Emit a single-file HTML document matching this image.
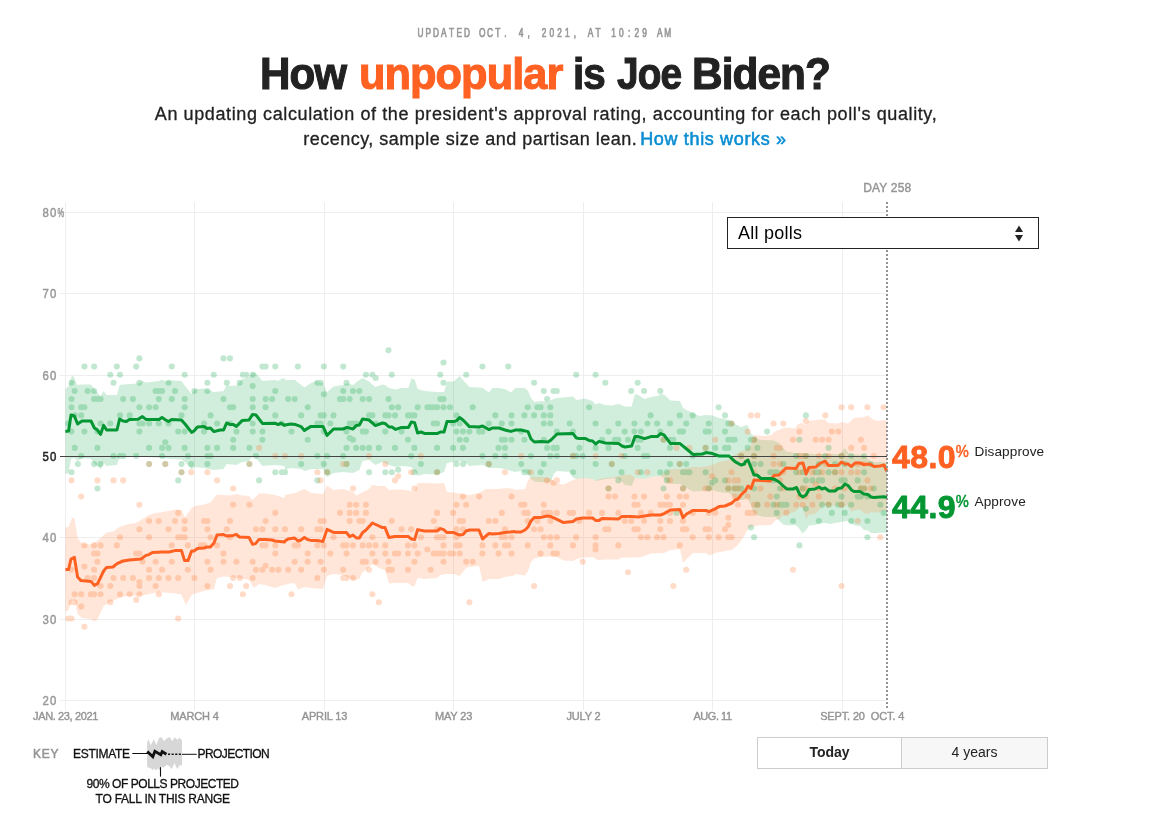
<!DOCTYPE html>
<html lang="en"><head><meta charset="utf-8"><title>How unpopular is Joe Biden?</title>
<style>
html,body{margin:0;padding:0;background:#fff;}
body{width:1150px;height:821px;position:relative;overflow:hidden;font-family:"Liberation Sans",sans-serif;color:#222;}
h1{position:absolute;left:0;width:1090px;top:49px;margin:0;text-align:center;font-size:44.5px;line-height:50px;font-weight:bold;color:#222;white-space:nowrap;text-align:left}
h1 i{position:absolute;top:0;font-style:normal;letter-spacing:-1px;transform-origin:0 0;-webkit-text-stroke:1.1px #222} h1 i.o{-webkit-text-stroke-color:#ff6122} h1 i.o{color:#ff6122}
.sub{position:absolute;left:0;width:1090px;top:102px;margin:0;text-align:center;font-size:18px;line-height:24.6px;color:#222;white-space:nowrap;letter-spacing:0.58px}
.sub{-webkit-text-stroke:0.3px #222} .sub a{color:#0a8dd2;text-decoration:none;-webkit-text-stroke:0.55px #0a8dd2}
svg.chart{position:absolute;left:0;top:0}
.ylab text{font-size:13.4px;fill:#999;stroke:#999;stroke-width:0.5px;letter-spacing:1.4px}
.upd{font-size:11.9px;fill:#999;stroke:#999;stroke-width:0.75px}
.xlab text{font-size:11px;fill:#949494;stroke:#949494;stroke-width:0.4px;text-anchor:middle;letter-spacing:-0.15px}
.big{font-size:32px;font-weight:bold;letter-spacing:0.4px;stroke-width:0.9px;stroke-linejoin:round}
.pct{font-size:16.3px;stroke-width:0.5px}
.lab{font-size:13.6px;fill:#222;letter-spacing:0.1px}
.key{font-size:12px;fill:#111;stroke:#111;stroke-width:0.3px}
.select{position:absolute;left:727px;top:217px;width:310px;height:30px;border:1px solid #222;background:#fff;font-size:18px;line-height:30px;color:#000;letter-spacing:0.25px}
.select span{position:absolute;left:10px;top:0}
.select svg{position:absolute;left:286px;top:7px}
.btns{position:absolute;left:757px;top:737px;width:291px;height:32px;border:1px solid #ccc;box-sizing:border-box;font-size:14px;background:#fff}
.btns div{position:absolute;top:0;height:30px;line-height:29px;text-align:center}
.btns .a{left:0;width:143px;font-weight:bold;border-right:1px solid #ccc}
.btns .b{left:144px;width:145px;background:#f7f7f7}
</style></head><body>
<h1><i style="left:259.8px;transform:scaleX(0.946)">How</i> <i class="o" style="left:358.9px;transform:scaleX(0.975)">unpopular</i> <i style="left:573.2px;transform:scaleX(0.909)">is</i> <i style="left:616.7px;transform:scaleX(0.872)">Joe</i> <i style="left:692.3px;transform:scaleX(0.952)">Biden?</i></h1>
<p class="sub"><span style="letter-spacing:0.605px;padding-left:2px">An updating calculation of the president's approval rating, accounting for each poll's quality,</span><br><span style="letter-spacing:0.49px">recency, sample size and partisan lean. <a style="margin-left:-2.5px;letter-spacing:0.66px">How this works »</a></span></p>
<svg class="chart" width="1150" height="821" viewBox="0 0 1150 821"><g stroke="#eeeeee" stroke-width="1" shape-rendering="crispEdges"><line x1="65.5" y1="202" x2="65.5" y2="710"/><line x1="194.5" y1="202" x2="194.5" y2="710"/><line x1="324.5" y1="202" x2="324.5" y2="710"/><line x1="453.5" y1="202" x2="453.5" y2="710"/><line x1="583.5" y1="202" x2="583.5" y2="710"/><line x1="712.5" y1="202" x2="712.5" y2="710"/><line x1="842.5" y1="202" x2="842.5" y2="710"/><line x1="60" y1="212.5" x2="887" y2="212.5"/><line x1="60" y1="293.5" x2="887" y2="293.5"/><line x1="60" y1="375.5" x2="887" y2="375.5"/><line x1="60" y1="537.5" x2="887" y2="537.5"/><line x1="60" y1="619.5" x2="887" y2="619.5"/><line x1="60" y1="700.5" x2="887" y2="700.5"/></g><defs><clipPath id="cg"><path d="M65.4,389.0 L68.6,386.0 L72.0,375.6 L74.0,377.0 L77.0,385.0 L81.0,384.4 L91.0,384.4 L95.0,390.0 L100.6,396.0 L103.6,391.0 L106.6,395.0 L117.0,395.0 L119.6,385.0 L123.0,384.4 L138.0,383.6 L142.4,381.0 L146.0,382.4 L159.0,381.0 L162.0,379.4 L165.6,381.4 L171.6,380.6 L181.4,381.0 L185.0,386.0 L191.6,394.0 L194.0,390.0 L197.4,389.0 L204.0,388.4 L214.0,392.0 L223.6,391.0 L226.6,385.0 L230.0,386.0 L236.4,385.6 L242.4,379.0 L249.0,377.0 L252.6,372.6 L256.0,373.0 L262.4,381.0 L275.0,380.0 L278.0,381.0 L281.0,379.0 L284.6,378.0 L285.0,380.0 L295.0,380.0 L304.4,387.4 L311.0,383.0 L317.0,381.0 L323.0,383.0 L327.0,392.0 L333.6,386.4 L343.0,385.0 L347.0,383.0 L353.0,385.0 L356.4,382.0 L362.6,378.0 L369.0,381.4 L375.4,387.0 L382.4,384.4 L385.0,385.0 L389.0,388.0 L395.6,389.4 L401.6,388.0 L408.4,388.0 L411.4,378.6 L414.6,379.6 L417.6,389.0 L424.4,391.0 L437.0,392.0 L444.0,392.0 L447.0,381.4 L453.6,381.4 L459.6,376.0 L463.0,380.0 L469.4,387.0 L479.0,387.4 L482.6,388.0 L489.0,392.6 L492.4,388.0 L499.0,388.0 L505.0,389.0 L511.0,392.6 L514.6,389.0 L515.0,388.0 L525.0,388.0 L528.0,391.0 L531.0,398.0 L534.4,402.0 L541.0,401.0 L548.0,402.0 L551.0,400.0 L557.0,398.0 L573.0,396.6 L576.4,400.0 L579.6,399.6 L585.0,398.4 L592.6,401.0 L595.6,404.4 L599.0,403.0 L605.4,405.0 L612.0,405.4 L618.4,404.0 L625.0,406.4 L631.6,406.6 L635.0,394.0 L638.4,395.0 L644.6,399.0 L651.0,397.0 L657.4,396.0 L660.6,394.0 L664.0,394.4 L670.4,400.6 L680.0,401.0 L683.0,408.0 L686.6,410.0 L693.0,413.0 L699.4,416.0 L706.0,415.0 L712.6,415.6 L719.0,418.0 L729.0,420.0 L735.0,424.0 L741.0,427.0 L744.6,426.0 L745.0,425.5 L747.5,425.0 L750.0,432.5 L754.0,436.0 L760.0,440.0 L774.0,440.5 L779.0,443.0 L786.0,451.5 L795.0,453.0 L815.0,454.0 L840.0,454.0 L845.0,448.0 L849.0,454.0 L864.0,455.0 L870.0,461.0 L876.0,462.5 L880.0,461.5 L887.0,463.0 L887.0,533.0 L884.0,532.5 L876.0,533.0 L871.0,533.0 L868.0,530.5 L864.0,530.0 L860.0,526.0 L855.0,525.5 L851.5,523.5 L847.0,521.0 L838.0,522.5 L830.0,524.0 L825.0,523.0 L819.0,523.5 L815.0,525.0 L809.0,525.5 L806.0,530.0 L802.5,533.5 L798.0,527.0 L795.0,525.0 L789.0,525.5 L783.0,524.5 L779.0,520.5 L776.0,517.0 L765.0,517.0 L758.0,515.5 L753.5,513.0 L750.5,504.0 L747.5,498.0 L745.0,498.5 L744.6,500.0 L741.0,500.0 L735.0,498.0 L729.0,493.0 L719.0,492.0 L712.6,490.0 L702.4,491.0 L693.0,491.4 L686.6,488.0 L680.0,484.0 L674.0,484.0 L667.0,483.0 L664.0,478.0 L660.6,476.0 L651.0,477.0 L644.6,479.0 L635.0,478.0 L631.6,486.0 L625.0,485.0 L618.4,478.0 L605.4,479.0 L595.6,481.0 L592.6,479.0 L585.0,478.0 L576.4,479.0 L573.0,477.6 L570.0,472.0 L557.0,471.0 L554.0,473.6 L551.0,481.0 L548.0,482.4 L541.0,482.0 L534.4,481.6 L531.0,479.0 L528.0,474.0 L521.0,471.0 L515.0,472.0 L514.6,472.0 L505.0,469.0 L499.0,468.0 L489.0,468.0 L482.6,465.0 L469.4,466.0 L463.0,461.0 L453.6,462.0 L447.0,463.0 L444.0,472.0 L437.0,474.4 L424.4,474.0 L417.6,476.0 L411.4,467.0 L401.6,466.0 L395.6,467.0 L389.0,465.0 L382.4,462.0 L375.4,465.0 L369.0,460.0 L362.6,461.0 L359.4,470.0 L353.0,473.0 L343.0,472.0 L333.6,473.0 L327.0,477.0 L323.0,469.0 L311.0,469.0 L304.4,471.0 L301.0,469.0 L291.0,468.0 L285.0,470.0 L284.6,466.0 L275.0,465.0 L262.4,466.0 L256.0,458.0 L252.6,456.0 L249.0,461.0 L242.4,462.0 L236.4,465.0 L226.6,464.0 L223.6,469.0 L214.0,470.0 L204.0,468.0 L195.0,467.0 L191.6,469.6 L185.0,462.0 L181.4,459.4 L171.6,459.0 L162.0,458.0 L146.0,457.0 L138.0,456.4 L123.0,457.4 L119.6,457.0 L117.0,465.0 L106.6,466.0 L103.6,463.0 L100.6,469.0 L94.4,464.0 L91.0,459.0 L82.0,458.0 L77.6,461.0 L74.4,458.0 L71.0,459.0 L68.6,473.0 L65.4,474.0Z"/></clipPath><clipPath id="co"><path d="M65.4,527.4 L68.6,527.0 L72.0,518.0 L74.4,517.4 L77.6,538.0 L82.0,543.6 L91.0,544.4 L94.4,543.0 L100.6,538.0 L106.6,532.4 L113.0,531.6 L119.6,527.0 L126.4,524.4 L136.0,523.0 L142.4,519.0 L149.0,515.0 L155.6,513.0 L165.6,511.6 L175.0,509.4 L181.4,510.0 L185.0,517.6 L191.6,508.0 L195.0,506.0 L204.0,504.4 L210.4,502.6 L217.0,494.4 L223.6,495.0 L230.0,495.6 L236.4,494.0 L242.4,495.6 L249.0,496.0 L252.6,500.0 L259.0,493.6 L265.0,493.6 L275.0,495.0 L284.6,498.0 L285.0,495.0 L295.0,493.0 L304.4,489.0 L311.0,493.0 L323.0,494.0 L327.0,485.6 L333.6,490.0 L343.0,489.0 L353.0,492.0 L356.4,495.6 L363.0,492.0 L369.0,489.0 L372.4,485.0 L379.0,486.0 L385.0,486.0 L389.0,490.0 L401.6,489.6 L411.4,491.0 L414.6,492.0 L417.6,483.0 L424.4,483.0 L437.0,483.4 L444.0,483.0 L447.0,492.0 L453.6,492.6 L463.0,494.0 L469.4,495.0 L479.0,493.0 L486.0,489.0 L499.0,489.0 L505.0,488.0 L514.6,489.0 L515.0,490.0 L525.0,489.0 L528.0,480.0 L531.0,477.0 L541.0,477.0 L548.0,478.0 L551.0,479.0 L557.0,483.0 L563.6,484.6 L573.0,480.0 L576.4,479.0 L585.0,478.0 L592.6,479.0 L595.6,481.0 L599.0,479.0 L605.4,478.0 L612.0,477.6 L618.4,476.0 L625.0,474.4 L631.6,475.0 L635.0,478.0 L644.6,479.0 L651.0,477.0 L660.6,476.0 L664.0,473.0 L667.0,470.0 L674.0,469.0 L680.0,469.0 L686.6,468.0 L693.0,467.0 L702.4,467.0 L712.6,465.0 L719.0,462.0 L729.0,460.0 L735.0,455.0 L741.0,451.0 L744.6,450.6 L746.0,449.0 L750.0,447.0 L753.0,440.0 L754.0,435.0 L765.0,436.0 L771.0,435.0 L775.0,431.5 L785.0,427.5 L795.0,428.5 L798.0,424.0 L802.0,423.0 L806.0,425.0 L809.0,421.0 L820.0,419.5 L825.0,419.5 L828.5,423.0 L838.0,423.5 L842.0,422.0 L848.0,423.5 L854.0,418.0 L864.0,417.0 L868.0,415.5 L874.0,420.0 L879.0,421.0 L883.0,420.0 L887.0,421.0 L887.0,511.0 L884.0,510.0 L880.0,512.0 L876.0,512.5 L871.0,512.0 L868.0,514.0 L864.0,513.0 L860.0,509.5 L855.0,510.0 L851.5,511.5 L847.0,505.0 L842.0,507.5 L838.5,506.0 L835.0,505.5 L824.0,505.0 L819.0,510.0 L815.0,514.0 L809.0,514.5 L806.0,519.0 L803.0,508.0 L800.0,506.5 L795.0,512.0 L790.0,513.0 L783.0,515.5 L779.0,519.5 L776.0,520.0 L771.0,525.0 L758.0,525.5 L751.0,527.0 L748.0,529.0 L745.0,534.5 L744.6,535.6 L738.0,545.0 L732.0,550.0 L725.0,551.0 L715.6,553.0 L709.0,555.6 L706.0,553.0 L693.0,553.0 L686.6,559.0 L683.0,563.0 L680.0,549.0 L670.4,550.0 L664.0,553.0 L651.0,553.6 L641.4,557.0 L631.6,557.6 L622.0,557.6 L618.4,559.4 L605.4,559.4 L599.0,560.0 L595.6,559.0 L592.6,557.0 L583.0,557.6 L576.4,559.0 L573.0,561.0 L563.6,560.4 L557.0,557.0 L551.0,556.4 L541.0,557.0 L534.4,558.6 L531.0,562.0 L528.0,571.0 L525.0,575.6 L515.0,574.0 L514.6,575.6 L505.0,577.0 L499.0,579.0 L489.0,579.0 L482.6,582.0 L479.0,566.0 L469.4,567.0 L466.0,568.0 L459.6,576.0 L453.6,574.0 L447.0,574.0 L440.4,575.0 L437.0,578.0 L424.4,579.0 L417.6,578.0 L414.6,586.0 L411.4,586.0 L408.4,583.0 L395.0,583.0 L389.0,583.6 L385.0,570.0 L379.0,568.0 L372.4,564.0 L366.0,570.0 L362.6,572.0 L359.4,579.0 L353.0,580.0 L343.0,575.0 L333.6,574.0 L327.0,576.0 L323.0,589.0 L311.0,588.0 L304.4,587.0 L298.0,589.6 L295.0,583.6 L291.0,583.0 L285.0,585.0 L284.6,584.4 L275.0,588.0 L265.0,585.0 L259.0,584.0 L254.0,588.0 L249.0,580.0 L236.4,577.4 L223.6,576.6 L217.0,578.0 L214.0,589.0 L204.0,591.0 L195.0,593.6 L191.6,595.0 L186.0,605.0 L181.4,594.4 L175.0,593.6 L159.0,592.0 L149.0,594.0 L142.4,595.4 L136.0,595.6 L126.4,596.0 L119.6,598.0 L110.0,602.0 L103.6,606.0 L97.6,619.0 L94.4,621.6 L91.0,619.0 L82.0,618.0 L77.6,614.0 L75.0,601.0 L72.0,600.0 L68.6,610.0 L65.4,612.0Z"/></clipPath></defs><path d="M65.4,389.0 L68.6,386.0 L72.0,375.6 L74.0,377.0 L77.0,385.0 L81.0,384.4 L91.0,384.4 L95.0,390.0 L100.6,396.0 L103.6,391.0 L106.6,395.0 L117.0,395.0 L119.6,385.0 L123.0,384.4 L138.0,383.6 L142.4,381.0 L146.0,382.4 L159.0,381.0 L162.0,379.4 L165.6,381.4 L171.6,380.6 L181.4,381.0 L185.0,386.0 L191.6,394.0 L194.0,390.0 L197.4,389.0 L204.0,388.4 L214.0,392.0 L223.6,391.0 L226.6,385.0 L230.0,386.0 L236.4,385.6 L242.4,379.0 L249.0,377.0 L252.6,372.6 L256.0,373.0 L262.4,381.0 L275.0,380.0 L278.0,381.0 L281.0,379.0 L284.6,378.0 L285.0,380.0 L295.0,380.0 L304.4,387.4 L311.0,383.0 L317.0,381.0 L323.0,383.0 L327.0,392.0 L333.6,386.4 L343.0,385.0 L347.0,383.0 L353.0,385.0 L356.4,382.0 L362.6,378.0 L369.0,381.4 L375.4,387.0 L382.4,384.4 L385.0,385.0 L389.0,388.0 L395.6,389.4 L401.6,388.0 L408.4,388.0 L411.4,378.6 L414.6,379.6 L417.6,389.0 L424.4,391.0 L437.0,392.0 L444.0,392.0 L447.0,381.4 L453.6,381.4 L459.6,376.0 L463.0,380.0 L469.4,387.0 L479.0,387.4 L482.6,388.0 L489.0,392.6 L492.4,388.0 L499.0,388.0 L505.0,389.0 L511.0,392.6 L514.6,389.0 L515.0,388.0 L525.0,388.0 L528.0,391.0 L531.0,398.0 L534.4,402.0 L541.0,401.0 L548.0,402.0 L551.0,400.0 L557.0,398.0 L573.0,396.6 L576.4,400.0 L579.6,399.6 L585.0,398.4 L592.6,401.0 L595.6,404.4 L599.0,403.0 L605.4,405.0 L612.0,405.4 L618.4,404.0 L625.0,406.4 L631.6,406.6 L635.0,394.0 L638.4,395.0 L644.6,399.0 L651.0,397.0 L657.4,396.0 L660.6,394.0 L664.0,394.4 L670.4,400.6 L680.0,401.0 L683.0,408.0 L686.6,410.0 L693.0,413.0 L699.4,416.0 L706.0,415.0 L712.6,415.6 L719.0,418.0 L729.0,420.0 L735.0,424.0 L741.0,427.0 L744.6,426.0 L745.0,425.5 L747.5,425.0 L750.0,432.5 L754.0,436.0 L760.0,440.0 L774.0,440.5 L779.0,443.0 L786.0,451.5 L795.0,453.0 L815.0,454.0 L840.0,454.0 L845.0,448.0 L849.0,454.0 L864.0,455.0 L870.0,461.0 L876.0,462.5 L880.0,461.5 L887.0,463.0 L887.0,533.0 L884.0,532.5 L876.0,533.0 L871.0,533.0 L868.0,530.5 L864.0,530.0 L860.0,526.0 L855.0,525.5 L851.5,523.5 L847.0,521.0 L838.0,522.5 L830.0,524.0 L825.0,523.0 L819.0,523.5 L815.0,525.0 L809.0,525.5 L806.0,530.0 L802.5,533.5 L798.0,527.0 L795.0,525.0 L789.0,525.5 L783.0,524.5 L779.0,520.5 L776.0,517.0 L765.0,517.0 L758.0,515.5 L753.5,513.0 L750.5,504.0 L747.5,498.0 L745.0,498.5 L744.6,500.0 L741.0,500.0 L735.0,498.0 L729.0,493.0 L719.0,492.0 L712.6,490.0 L702.4,491.0 L693.0,491.4 L686.6,488.0 L680.0,484.0 L674.0,484.0 L667.0,483.0 L664.0,478.0 L660.6,476.0 L651.0,477.0 L644.6,479.0 L635.0,478.0 L631.6,486.0 L625.0,485.0 L618.4,478.0 L605.4,479.0 L595.6,481.0 L592.6,479.0 L585.0,478.0 L576.4,479.0 L573.0,477.6 L570.0,472.0 L557.0,471.0 L554.0,473.6 L551.0,481.0 L548.0,482.4 L541.0,482.0 L534.4,481.6 L531.0,479.0 L528.0,474.0 L521.0,471.0 L515.0,472.0 L514.6,472.0 L505.0,469.0 L499.0,468.0 L489.0,468.0 L482.6,465.0 L469.4,466.0 L463.0,461.0 L453.6,462.0 L447.0,463.0 L444.0,472.0 L437.0,474.4 L424.4,474.0 L417.6,476.0 L411.4,467.0 L401.6,466.0 L395.6,467.0 L389.0,465.0 L382.4,462.0 L375.4,465.0 L369.0,460.0 L362.6,461.0 L359.4,470.0 L353.0,473.0 L343.0,472.0 L333.6,473.0 L327.0,477.0 L323.0,469.0 L311.0,469.0 L304.4,471.0 L301.0,469.0 L291.0,468.0 L285.0,470.0 L284.6,466.0 L275.0,465.0 L262.4,466.0 L256.0,458.0 L252.6,456.0 L249.0,461.0 L242.4,462.0 L236.4,465.0 L226.6,464.0 L223.6,469.0 L214.0,470.0 L204.0,468.0 L195.0,467.0 L191.6,469.6 L185.0,462.0 L181.4,459.4 L171.6,459.0 L162.0,458.0 L146.0,457.0 L138.0,456.4 L123.0,457.4 L119.6,457.0 L117.0,465.0 L106.6,466.0 L103.6,463.0 L100.6,469.0 L94.4,464.0 L91.0,459.0 L82.0,458.0 L77.6,461.0 L74.4,458.0 L71.0,459.0 L68.6,473.0 L65.4,474.0Z" fill="#00a03e" fill-opacity="0.18"/><path d="M65.4,527.4 L68.6,527.0 L72.0,518.0 L74.4,517.4 L77.6,538.0 L82.0,543.6 L91.0,544.4 L94.4,543.0 L100.6,538.0 L106.6,532.4 L113.0,531.6 L119.6,527.0 L126.4,524.4 L136.0,523.0 L142.4,519.0 L149.0,515.0 L155.6,513.0 L165.6,511.6 L175.0,509.4 L181.4,510.0 L185.0,517.6 L191.6,508.0 L195.0,506.0 L204.0,504.4 L210.4,502.6 L217.0,494.4 L223.6,495.0 L230.0,495.6 L236.4,494.0 L242.4,495.6 L249.0,496.0 L252.6,500.0 L259.0,493.6 L265.0,493.6 L275.0,495.0 L284.6,498.0 L285.0,495.0 L295.0,493.0 L304.4,489.0 L311.0,493.0 L323.0,494.0 L327.0,485.6 L333.6,490.0 L343.0,489.0 L353.0,492.0 L356.4,495.6 L363.0,492.0 L369.0,489.0 L372.4,485.0 L379.0,486.0 L385.0,486.0 L389.0,490.0 L401.6,489.6 L411.4,491.0 L414.6,492.0 L417.6,483.0 L424.4,483.0 L437.0,483.4 L444.0,483.0 L447.0,492.0 L453.6,492.6 L463.0,494.0 L469.4,495.0 L479.0,493.0 L486.0,489.0 L499.0,489.0 L505.0,488.0 L514.6,489.0 L515.0,490.0 L525.0,489.0 L528.0,480.0 L531.0,477.0 L541.0,477.0 L548.0,478.0 L551.0,479.0 L557.0,483.0 L563.6,484.6 L573.0,480.0 L576.4,479.0 L585.0,478.0 L592.6,479.0 L595.6,481.0 L599.0,479.0 L605.4,478.0 L612.0,477.6 L618.4,476.0 L625.0,474.4 L631.6,475.0 L635.0,478.0 L644.6,479.0 L651.0,477.0 L660.6,476.0 L664.0,473.0 L667.0,470.0 L674.0,469.0 L680.0,469.0 L686.6,468.0 L693.0,467.0 L702.4,467.0 L712.6,465.0 L719.0,462.0 L729.0,460.0 L735.0,455.0 L741.0,451.0 L744.6,450.6 L746.0,449.0 L750.0,447.0 L753.0,440.0 L754.0,435.0 L765.0,436.0 L771.0,435.0 L775.0,431.5 L785.0,427.5 L795.0,428.5 L798.0,424.0 L802.0,423.0 L806.0,425.0 L809.0,421.0 L820.0,419.5 L825.0,419.5 L828.5,423.0 L838.0,423.5 L842.0,422.0 L848.0,423.5 L854.0,418.0 L864.0,417.0 L868.0,415.5 L874.0,420.0 L879.0,421.0 L883.0,420.0 L887.0,421.0 L887.0,511.0 L884.0,510.0 L880.0,512.0 L876.0,512.5 L871.0,512.0 L868.0,514.0 L864.0,513.0 L860.0,509.5 L855.0,510.0 L851.5,511.5 L847.0,505.0 L842.0,507.5 L838.5,506.0 L835.0,505.5 L824.0,505.0 L819.0,510.0 L815.0,514.0 L809.0,514.5 L806.0,519.0 L803.0,508.0 L800.0,506.5 L795.0,512.0 L790.0,513.0 L783.0,515.5 L779.0,519.5 L776.0,520.0 L771.0,525.0 L758.0,525.5 L751.0,527.0 L748.0,529.0 L745.0,534.5 L744.6,535.6 L738.0,545.0 L732.0,550.0 L725.0,551.0 L715.6,553.0 L709.0,555.6 L706.0,553.0 L693.0,553.0 L686.6,559.0 L683.0,563.0 L680.0,549.0 L670.4,550.0 L664.0,553.0 L651.0,553.6 L641.4,557.0 L631.6,557.6 L622.0,557.6 L618.4,559.4 L605.4,559.4 L599.0,560.0 L595.6,559.0 L592.6,557.0 L583.0,557.6 L576.4,559.0 L573.0,561.0 L563.6,560.4 L557.0,557.0 L551.0,556.4 L541.0,557.0 L534.4,558.6 L531.0,562.0 L528.0,571.0 L525.0,575.6 L515.0,574.0 L514.6,575.6 L505.0,577.0 L499.0,579.0 L489.0,579.0 L482.6,582.0 L479.0,566.0 L469.4,567.0 L466.0,568.0 L459.6,576.0 L453.6,574.0 L447.0,574.0 L440.4,575.0 L437.0,578.0 L424.4,579.0 L417.6,578.0 L414.6,586.0 L411.4,586.0 L408.4,583.0 L395.0,583.0 L389.0,583.6 L385.0,570.0 L379.0,568.0 L372.4,564.0 L366.0,570.0 L362.6,572.0 L359.4,579.0 L353.0,580.0 L343.0,575.0 L333.6,574.0 L327.0,576.0 L323.0,589.0 L311.0,588.0 L304.4,587.0 L298.0,589.6 L295.0,583.6 L291.0,583.0 L285.0,585.0 L284.6,584.4 L275.0,588.0 L265.0,585.0 L259.0,584.0 L254.0,588.0 L249.0,580.0 L236.4,577.4 L223.6,576.6 L217.0,578.0 L214.0,589.0 L204.0,591.0 L195.0,593.6 L191.6,595.0 L186.0,605.0 L181.4,594.4 L175.0,593.6 L159.0,592.0 L149.0,594.0 L142.4,595.4 L136.0,595.6 L126.4,596.0 L119.6,598.0 L110.0,602.0 L103.6,606.0 L97.6,619.0 L94.4,621.6 L91.0,619.0 L82.0,618.0 L77.6,614.0 L75.0,601.0 L72.0,600.0 L68.6,610.0 L65.4,612.0Z" fill="#ff6c1f" fill-opacity="0.17"/><g clip-path="url(#cg)"><rect x="60" y="330" width="830" height="330" clip-path="url(#co)" fill="#ffdeb8" fill-opacity="0.13"/></g><g fill="#00a03e" opacity="0.24"><circle cx="139.4" cy="358.4" r="3.05"/><circle cx="223.5" cy="358.4" r="3.05"/><circle cx="230.0" cy="358.4" r="3.05"/><circle cx="84.4" cy="366.6" r="3.05"/><circle cx="94.1" cy="366.6" r="3.05"/><circle cx="116.8" cy="366.6" r="3.05"/><circle cx="136.2" cy="366.6" r="3.05"/><circle cx="171.8" cy="366.6" r="3.05"/><circle cx="262.4" cy="366.6" r="3.05"/><circle cx="265.6" cy="366.6" r="3.05"/><circle cx="275.3" cy="366.6" r="3.05"/><circle cx="297.9" cy="366.6" r="3.05"/><circle cx="323.8" cy="366.6" r="3.05"/><circle cx="343.2" cy="366.6" r="3.05"/><circle cx="482.4" cy="366.6" r="3.05"/><circle cx="508.2" cy="366.6" r="3.05"/><circle cx="110.3" cy="374.7" r="3.05"/><circle cx="120.0" cy="374.7" r="3.05"/><circle cx="184.7" cy="374.7" r="3.05"/><circle cx="213.8" cy="374.7" r="3.05"/><circle cx="242.9" cy="374.7" r="3.05"/><circle cx="246.2" cy="374.7" r="3.05"/><circle cx="252.7" cy="374.7" r="3.05"/><circle cx="365.9" cy="374.7" r="3.05"/><circle cx="372.4" cy="374.7" r="3.05"/><circle cx="391.8" cy="374.7" r="3.05"/><circle cx="440.3" cy="374.7" r="3.05"/><circle cx="466.2" cy="374.7" r="3.05"/><circle cx="576.2" cy="374.7" r="3.05"/><circle cx="595.6" cy="374.7" r="3.05"/><circle cx="71.5" cy="382.8" r="3.05"/><circle cx="113.5" cy="382.8" r="3.05"/><circle cx="139.4" cy="382.8" r="3.05"/><circle cx="168.5" cy="382.8" r="3.05"/><circle cx="207.4" cy="382.8" r="3.05"/><circle cx="226.8" cy="382.8" r="3.05"/><circle cx="239.7" cy="382.8" r="3.05"/><circle cx="317.4" cy="382.8" r="3.05"/><circle cx="320.6" cy="382.8" r="3.05"/><circle cx="346.5" cy="382.8" r="3.05"/><circle cx="443.5" cy="382.8" r="3.05"/><circle cx="534.1" cy="382.8" r="3.05"/><circle cx="605.3" cy="382.8" r="3.05"/><circle cx="637.7" cy="382.8" r="3.05"/><circle cx="252.7" cy="386.1" r="3.05"/><circle cx="375.6" cy="378.0" r="3.05"/><circle cx="443.5" cy="362.5" r="3.05"/><circle cx="388.5" cy="350.3" r="3.05"/><circle cx="323.8" cy="394.2" r="3.05"/><circle cx="74.7" cy="391.0" r="3.05"/><circle cx="87.6" cy="391.0" r="3.05"/><circle cx="94.1" cy="391.0" r="3.05"/><circle cx="155.6" cy="391.0" r="3.05"/><circle cx="158.8" cy="391.0" r="3.05"/><circle cx="162.1" cy="391.0" r="3.05"/><circle cx="175.0" cy="391.0" r="3.05"/><circle cx="194.4" cy="391.0" r="3.05"/><circle cx="207.4" cy="391.0" r="3.05"/><circle cx="275.3" cy="391.0" r="3.05"/><circle cx="343.2" cy="391.0" r="3.05"/><circle cx="353.0" cy="391.0" r="3.05"/><circle cx="359.4" cy="391.0" r="3.05"/><circle cx="543.8" cy="391.0" r="3.05"/><circle cx="553.5" cy="391.0" r="3.05"/><circle cx="556.8" cy="391.0" r="3.05"/><circle cx="631.2" cy="391.0" r="3.05"/><circle cx="644.1" cy="391.0" r="3.05"/><circle cx="660.3" cy="391.0" r="3.05"/><circle cx="71.5" cy="399.1" r="3.05"/><circle cx="94.1" cy="399.1" r="3.05"/><circle cx="97.4" cy="399.1" r="3.05"/><circle cx="100.6" cy="399.1" r="3.05"/><circle cx="123.2" cy="399.1" r="3.05"/><circle cx="132.9" cy="399.1" r="3.05"/><circle cx="158.8" cy="399.1" r="3.05"/><circle cx="171.8" cy="399.1" r="3.05"/><circle cx="184.7" cy="399.1" r="3.05"/><circle cx="223.5" cy="399.1" r="3.05"/><circle cx="252.7" cy="399.1" r="3.05"/><circle cx="265.6" cy="399.1" r="3.05"/><circle cx="272.1" cy="399.1" r="3.05"/><circle cx="288.2" cy="399.1" r="3.05"/><circle cx="294.7" cy="399.1" r="3.05"/><circle cx="340.0" cy="399.1" r="3.05"/><circle cx="343.2" cy="399.1" r="3.05"/><circle cx="349.7" cy="399.1" r="3.05"/><circle cx="362.7" cy="399.1" r="3.05"/><circle cx="369.1" cy="399.1" r="3.05"/><circle cx="388.5" cy="399.1" r="3.05"/><circle cx="440.3" cy="399.1" r="3.05"/><circle cx="443.5" cy="399.1" r="3.05"/><circle cx="547.1" cy="399.1" r="3.05"/><circle cx="71.5" cy="407.2" r="3.05"/><circle cx="81.2" cy="407.2" r="3.05"/><circle cx="84.4" cy="407.2" r="3.05"/><circle cx="139.4" cy="407.2" r="3.05"/><circle cx="149.1" cy="407.2" r="3.05"/><circle cx="155.6" cy="407.2" r="3.05"/><circle cx="184.7" cy="407.2" r="3.05"/><circle cx="230.0" cy="407.2" r="3.05"/><circle cx="233.2" cy="407.2" r="3.05"/><circle cx="252.7" cy="407.2" r="3.05"/><circle cx="265.6" cy="407.2" r="3.05"/><circle cx="307.7" cy="407.2" r="3.05"/><circle cx="391.8" cy="407.2" r="3.05"/><circle cx="398.2" cy="407.2" r="3.05"/><circle cx="417.7" cy="407.2" r="3.05"/><circle cx="427.4" cy="407.2" r="3.05"/><circle cx="430.6" cy="407.2" r="3.05"/><circle cx="433.8" cy="407.2" r="3.05"/><circle cx="437.1" cy="407.2" r="3.05"/><circle cx="443.5" cy="407.2" r="3.05"/><circle cx="450.0" cy="407.2" r="3.05"/><circle cx="472.7" cy="407.2" r="3.05"/><circle cx="527.7" cy="407.2" r="3.05"/><circle cx="537.4" cy="407.2" r="3.05"/><circle cx="540.6" cy="407.2" r="3.05"/><circle cx="550.3" cy="407.2" r="3.05"/><circle cx="589.1" cy="407.2" r="3.05"/><circle cx="718.6" cy="407.2" r="3.05"/><circle cx="74.7" cy="415.4" r="3.05"/><circle cx="81.2" cy="415.4" r="3.05"/><circle cx="120.0" cy="415.4" r="3.05"/><circle cx="129.7" cy="415.4" r="3.05"/><circle cx="181.5" cy="415.4" r="3.05"/><circle cx="210.6" cy="415.4" r="3.05"/><circle cx="275.3" cy="415.4" r="3.05"/><circle cx="301.2" cy="415.4" r="3.05"/><circle cx="320.6" cy="415.4" r="3.05"/><circle cx="323.8" cy="415.4" r="3.05"/><circle cx="333.5" cy="415.4" r="3.05"/><circle cx="369.1" cy="415.4" r="3.05"/><circle cx="372.4" cy="415.4" r="3.05"/><circle cx="385.3" cy="415.4" r="3.05"/><circle cx="388.5" cy="415.4" r="3.05"/><circle cx="395.0" cy="415.4" r="3.05"/><circle cx="408.0" cy="415.4" r="3.05"/><circle cx="411.2" cy="415.4" r="3.05"/><circle cx="414.4" cy="415.4" r="3.05"/><circle cx="456.5" cy="415.4" r="3.05"/><circle cx="495.3" cy="415.4" r="3.05"/><circle cx="511.5" cy="415.4" r="3.05"/><circle cx="524.4" cy="415.4" r="3.05"/><circle cx="534.1" cy="415.4" r="3.05"/><circle cx="543.8" cy="415.4" r="3.05"/><circle cx="550.3" cy="415.4" r="3.05"/><circle cx="650.6" cy="415.4" r="3.05"/><circle cx="679.7" cy="415.4" r="3.05"/><circle cx="692.7" cy="415.4" r="3.05"/><circle cx="725.0" cy="415.4" r="3.05"/><circle cx="805.9" cy="415.4" r="3.05"/><circle cx="68.2" cy="423.5" r="3.05"/><circle cx="100.6" cy="423.5" r="3.05"/><circle cx="110.3" cy="423.5" r="3.05"/><circle cx="139.4" cy="423.5" r="3.05"/><circle cx="142.6" cy="423.5" r="3.05"/><circle cx="149.1" cy="423.5" r="3.05"/><circle cx="158.8" cy="423.5" r="3.05"/><circle cx="168.5" cy="423.5" r="3.05"/><circle cx="204.1" cy="423.5" r="3.05"/><circle cx="217.1" cy="423.5" r="3.05"/><circle cx="230.0" cy="423.5" r="3.05"/><circle cx="252.7" cy="423.5" r="3.05"/><circle cx="281.8" cy="423.5" r="3.05"/><circle cx="317.4" cy="423.5" r="3.05"/><circle cx="320.6" cy="423.5" r="3.05"/><circle cx="330.3" cy="423.5" r="3.05"/><circle cx="349.7" cy="423.5" r="3.05"/><circle cx="353.0" cy="423.5" r="3.05"/><circle cx="356.2" cy="423.5" r="3.05"/><circle cx="375.6" cy="423.5" r="3.05"/><circle cx="433.8" cy="423.5" r="3.05"/><circle cx="437.1" cy="423.5" r="3.05"/><circle cx="453.2" cy="423.5" r="3.05"/><circle cx="459.7" cy="423.5" r="3.05"/><circle cx="488.8" cy="423.5" r="3.05"/><circle cx="501.8" cy="423.5" r="3.05"/><circle cx="511.5" cy="423.5" r="3.05"/><circle cx="543.8" cy="423.5" r="3.05"/><circle cx="550.3" cy="423.5" r="3.05"/><circle cx="569.7" cy="423.5" r="3.05"/><circle cx="595.6" cy="423.5" r="3.05"/><circle cx="618.3" cy="423.5" r="3.05"/><circle cx="634.4" cy="423.5" r="3.05"/><circle cx="647.4" cy="423.5" r="3.05"/><circle cx="657.1" cy="423.5" r="3.05"/><circle cx="670.0" cy="423.5" r="3.05"/><circle cx="686.2" cy="423.5" r="3.05"/><circle cx="708.8" cy="423.5" r="3.05"/><circle cx="728.3" cy="423.5" r="3.05"/><circle cx="731.5" cy="423.5" r="3.05"/><circle cx="71.5" cy="431.6" r="3.05"/><circle cx="84.4" cy="431.6" r="3.05"/><circle cx="97.4" cy="431.6" r="3.05"/><circle cx="139.4" cy="431.6" r="3.05"/><circle cx="178.2" cy="431.6" r="3.05"/><circle cx="184.7" cy="431.6" r="3.05"/><circle cx="204.1" cy="431.6" r="3.05"/><circle cx="236.5" cy="431.6" r="3.05"/><circle cx="252.7" cy="431.6" r="3.05"/><circle cx="262.4" cy="431.6" r="3.05"/><circle cx="291.5" cy="431.6" r="3.05"/><circle cx="323.8" cy="431.6" r="3.05"/><circle cx="346.5" cy="431.6" r="3.05"/><circle cx="362.7" cy="431.6" r="3.05"/><circle cx="365.9" cy="431.6" r="3.05"/><circle cx="385.3" cy="431.6" r="3.05"/><circle cx="401.5" cy="431.6" r="3.05"/><circle cx="456.5" cy="431.6" r="3.05"/><circle cx="463.0" cy="431.6" r="3.05"/><circle cx="469.4" cy="431.6" r="3.05"/><circle cx="479.1" cy="431.6" r="3.05"/><circle cx="482.4" cy="431.6" r="3.05"/><circle cx="521.2" cy="431.6" r="3.05"/><circle cx="556.8" cy="431.6" r="3.05"/><circle cx="573.0" cy="431.6" r="3.05"/><circle cx="608.5" cy="431.6" r="3.05"/><circle cx="624.7" cy="431.6" r="3.05"/><circle cx="634.4" cy="431.6" r="3.05"/><circle cx="640.9" cy="431.6" r="3.05"/><circle cx="660.3" cy="431.6" r="3.05"/><circle cx="679.7" cy="431.6" r="3.05"/><circle cx="683.0" cy="431.6" r="3.05"/><circle cx="705.6" cy="431.6" r="3.05"/><circle cx="708.8" cy="431.6" r="3.05"/><circle cx="725.0" cy="431.6" r="3.05"/><circle cx="767.1" cy="431.6" r="3.05"/><circle cx="233.2" cy="439.7" r="3.05"/><circle cx="262.4" cy="439.7" r="3.05"/><circle cx="307.7" cy="439.7" r="3.05"/><circle cx="353.0" cy="439.7" r="3.05"/><circle cx="408.0" cy="439.7" r="3.05"/><circle cx="459.7" cy="439.7" r="3.05"/><circle cx="466.2" cy="439.7" r="3.05"/><circle cx="501.8" cy="439.7" r="3.05"/><circle cx="505.0" cy="439.7" r="3.05"/><circle cx="511.5" cy="439.7" r="3.05"/><circle cx="524.4" cy="439.7" r="3.05"/><circle cx="543.8" cy="439.7" r="3.05"/><circle cx="602.1" cy="439.7" r="3.05"/><circle cx="615.0" cy="439.7" r="3.05"/><circle cx="618.3" cy="439.7" r="3.05"/><circle cx="628.0" cy="439.7" r="3.05"/><circle cx="637.7" cy="439.7" r="3.05"/><circle cx="640.9" cy="439.7" r="3.05"/><circle cx="663.5" cy="439.7" r="3.05"/><circle cx="670.0" cy="439.7" r="3.05"/><circle cx="673.3" cy="439.7" r="3.05"/><circle cx="728.3" cy="439.7" r="3.05"/><circle cx="731.5" cy="439.7" r="3.05"/><circle cx="734.7" cy="439.7" r="3.05"/><circle cx="750.9" cy="439.7" r="3.05"/><circle cx="754.1" cy="439.7" r="3.05"/><circle cx="799.4" cy="439.7" r="3.05"/><circle cx="165.3" cy="442.2" r="3.05"/><circle cx="349.7" cy="438.1" r="3.05"/><circle cx="398.2" cy="469.8" r="3.05"/><circle cx="74.7" cy="447.9" r="3.05"/><circle cx="97.4" cy="447.9" r="3.05"/><circle cx="149.1" cy="447.9" r="3.05"/><circle cx="162.1" cy="447.9" r="3.05"/><circle cx="168.5" cy="447.9" r="3.05"/><circle cx="184.7" cy="447.9" r="3.05"/><circle cx="207.4" cy="447.9" r="3.05"/><circle cx="217.1" cy="447.9" r="3.05"/><circle cx="233.2" cy="447.9" r="3.05"/><circle cx="249.4" cy="447.9" r="3.05"/><circle cx="346.5" cy="447.9" r="3.05"/><circle cx="356.2" cy="447.9" r="3.05"/><circle cx="362.7" cy="447.9" r="3.05"/><circle cx="369.1" cy="447.9" r="3.05"/><circle cx="378.8" cy="447.9" r="3.05"/><circle cx="395.0" cy="447.9" r="3.05"/><circle cx="414.4" cy="447.9" r="3.05"/><circle cx="437.1" cy="447.9" r="3.05"/><circle cx="453.2" cy="447.9" r="3.05"/><circle cx="463.0" cy="447.9" r="3.05"/><circle cx="498.5" cy="447.9" r="3.05"/><circle cx="505.0" cy="447.9" r="3.05"/><circle cx="547.1" cy="447.9" r="3.05"/><circle cx="553.5" cy="447.9" r="3.05"/><circle cx="556.8" cy="447.9" r="3.05"/><circle cx="579.4" cy="447.9" r="3.05"/><circle cx="595.6" cy="447.9" r="3.05"/><circle cx="608.5" cy="447.9" r="3.05"/><circle cx="637.7" cy="447.9" r="3.05"/><circle cx="670.0" cy="447.9" r="3.05"/><circle cx="705.6" cy="447.9" r="3.05"/><circle cx="715.3" cy="447.9" r="3.05"/><circle cx="725.0" cy="447.9" r="3.05"/><circle cx="728.3" cy="447.9" r="3.05"/><circle cx="747.7" cy="447.9" r="3.05"/><circle cx="757.4" cy="447.9" r="3.05"/><circle cx="828.6" cy="447.9" r="3.05"/><circle cx="81.2" cy="456.0" r="3.05"/><circle cx="113.5" cy="456.0" r="3.05"/><circle cx="120.0" cy="456.0" r="3.05"/><circle cx="123.2" cy="456.0" r="3.05"/><circle cx="136.2" cy="456.0" r="3.05"/><circle cx="162.1" cy="456.0" r="3.05"/><circle cx="187.9" cy="456.0" r="3.05"/><circle cx="207.4" cy="456.0" r="3.05"/><circle cx="210.6" cy="456.0" r="3.05"/><circle cx="255.9" cy="456.0" r="3.05"/><circle cx="317.4" cy="456.0" r="3.05"/><circle cx="327.1" cy="456.0" r="3.05"/><circle cx="343.2" cy="456.0" r="3.05"/><circle cx="411.2" cy="456.0" r="3.05"/><circle cx="482.4" cy="456.0" r="3.05"/><circle cx="495.3" cy="456.0" r="3.05"/><circle cx="505.0" cy="456.0" r="3.05"/><circle cx="530.9" cy="456.0" r="3.05"/><circle cx="550.3" cy="456.0" r="3.05"/><circle cx="556.8" cy="456.0" r="3.05"/><circle cx="573.0" cy="456.0" r="3.05"/><circle cx="576.2" cy="456.0" r="3.05"/><circle cx="582.7" cy="456.0" r="3.05"/><circle cx="624.7" cy="456.0" r="3.05"/><circle cx="644.1" cy="456.0" r="3.05"/><circle cx="647.4" cy="456.0" r="3.05"/><circle cx="692.7" cy="456.0" r="3.05"/><circle cx="741.2" cy="456.0" r="3.05"/><circle cx="754.1" cy="456.0" r="3.05"/><circle cx="796.2" cy="456.0" r="3.05"/><circle cx="805.9" cy="456.0" r="3.05"/><circle cx="825.3" cy="456.0" r="3.05"/><circle cx="841.5" cy="456.0" r="3.05"/><circle cx="851.2" cy="456.0" r="3.05"/><circle cx="864.1" cy="456.0" r="3.05"/><circle cx="77.9" cy="464.1" r="3.05"/><circle cx="94.1" cy="464.1" r="3.05"/><circle cx="100.6" cy="464.1" r="3.05"/><circle cx="149.1" cy="464.1" r="3.05"/><circle cx="165.3" cy="464.1" r="3.05"/><circle cx="181.5" cy="464.1" r="3.05"/><circle cx="191.2" cy="464.1" r="3.05"/><circle cx="207.4" cy="464.1" r="3.05"/><circle cx="249.4" cy="464.1" r="3.05"/><circle cx="301.2" cy="464.1" r="3.05"/><circle cx="323.8" cy="464.1" r="3.05"/><circle cx="346.5" cy="464.1" r="3.05"/><circle cx="420.9" cy="464.1" r="3.05"/><circle cx="456.5" cy="464.1" r="3.05"/><circle cx="463.0" cy="464.1" r="3.05"/><circle cx="488.8" cy="464.1" r="3.05"/><circle cx="521.2" cy="464.1" r="3.05"/><circle cx="543.8" cy="464.1" r="3.05"/><circle cx="595.6" cy="464.1" r="3.05"/><circle cx="611.8" cy="464.1" r="3.05"/><circle cx="670.0" cy="464.1" r="3.05"/><circle cx="679.7" cy="464.1" r="3.05"/><circle cx="686.2" cy="464.1" r="3.05"/><circle cx="754.1" cy="464.1" r="3.05"/><circle cx="760.6" cy="464.1" r="3.05"/><circle cx="783.3" cy="464.1" r="3.05"/><circle cx="818.8" cy="464.1" r="3.05"/><circle cx="835.0" cy="464.1" r="3.05"/><circle cx="844.7" cy="464.1" r="3.05"/><circle cx="870.6" cy="464.1" r="3.05"/><circle cx="71.5" cy="472.3" r="3.05"/><circle cx="181.5" cy="472.3" r="3.05"/><circle cx="275.3" cy="472.3" r="3.05"/><circle cx="281.8" cy="472.3" r="3.05"/><circle cx="285.0" cy="472.3" r="3.05"/><circle cx="327.1" cy="472.3" r="3.05"/><circle cx="369.1" cy="472.3" r="3.05"/><circle cx="385.3" cy="472.3" r="3.05"/><circle cx="391.8" cy="472.3" r="3.05"/><circle cx="414.4" cy="472.3" r="3.05"/><circle cx="437.1" cy="472.3" r="3.05"/><circle cx="524.4" cy="472.3" r="3.05"/><circle cx="527.7" cy="472.3" r="3.05"/><circle cx="540.6" cy="472.3" r="3.05"/><circle cx="573.0" cy="472.3" r="3.05"/><circle cx="621.5" cy="472.3" r="3.05"/><circle cx="640.9" cy="472.3" r="3.05"/><circle cx="660.3" cy="472.3" r="3.05"/><circle cx="666.8" cy="472.3" r="3.05"/><circle cx="683.0" cy="472.3" r="3.05"/><circle cx="686.2" cy="472.3" r="3.05"/><circle cx="689.4" cy="472.3" r="3.05"/><circle cx="705.6" cy="472.3" r="3.05"/><circle cx="770.3" cy="472.3" r="3.05"/><circle cx="773.6" cy="472.3" r="3.05"/><circle cx="776.8" cy="472.3" r="3.05"/><circle cx="796.2" cy="472.3" r="3.05"/><circle cx="802.7" cy="472.3" r="3.05"/><circle cx="815.6" cy="472.3" r="3.05"/><circle cx="818.8" cy="472.3" r="3.05"/><circle cx="828.6" cy="472.3" r="3.05"/><circle cx="835.0" cy="472.3" r="3.05"/><circle cx="864.1" cy="472.3" r="3.05"/><circle cx="178.2" cy="480.4" r="3.05"/><circle cx="259.1" cy="480.4" r="3.05"/><circle cx="317.4" cy="480.4" r="3.05"/><circle cx="618.3" cy="480.4" r="3.05"/><circle cx="666.8" cy="480.4" r="3.05"/><circle cx="715.3" cy="480.4" r="3.05"/><circle cx="725.0" cy="480.4" r="3.05"/><circle cx="773.6" cy="480.4" r="3.05"/><circle cx="805.9" cy="480.4" r="3.05"/><circle cx="812.4" cy="480.4" r="3.05"/><circle cx="818.8" cy="480.4" r="3.05"/><circle cx="822.1" cy="480.4" r="3.05"/><circle cx="841.5" cy="480.4" r="3.05"/><circle cx="844.7" cy="480.4" r="3.05"/><circle cx="857.7" cy="480.4" r="3.05"/><circle cx="712.1" cy="482.8" r="3.05"/><circle cx="97.4" cy="488.5" r="3.05"/><circle cx="608.5" cy="488.5" r="3.05"/><circle cx="663.5" cy="488.5" r="3.05"/><circle cx="683.0" cy="488.5" r="3.05"/><circle cx="708.8" cy="488.5" r="3.05"/><circle cx="728.3" cy="488.5" r="3.05"/><circle cx="734.7" cy="488.5" r="3.05"/><circle cx="738.0" cy="488.5" r="3.05"/><circle cx="741.2" cy="488.5" r="3.05"/><circle cx="754.1" cy="488.5" r="3.05"/><circle cx="780.0" cy="488.5" r="3.05"/><circle cx="802.7" cy="488.5" r="3.05"/><circle cx="860.9" cy="488.5" r="3.05"/><circle cx="864.1" cy="488.5" r="3.05"/><circle cx="873.8" cy="488.5" r="3.05"/><circle cx="776.8" cy="496.6" r="3.05"/><circle cx="841.5" cy="496.6" r="3.05"/><circle cx="857.7" cy="496.6" r="3.05"/><circle cx="860.9" cy="496.6" r="3.05"/><circle cx="867.4" cy="496.6" r="3.05"/><circle cx="757.4" cy="504.8" r="3.05"/><circle cx="773.6" cy="504.8" r="3.05"/><circle cx="780.0" cy="504.8" r="3.05"/><circle cx="783.3" cy="504.8" r="3.05"/><circle cx="786.5" cy="504.8" r="3.05"/><circle cx="822.1" cy="504.8" r="3.05"/><circle cx="828.6" cy="504.8" r="3.05"/><circle cx="838.3" cy="504.8" r="3.05"/><circle cx="841.5" cy="504.8" r="3.05"/><circle cx="851.2" cy="504.8" r="3.05"/><circle cx="880.3" cy="504.8" r="3.05"/><circle cx="676.5" cy="512.9" r="3.05"/><circle cx="776.8" cy="512.9" r="3.05"/><circle cx="831.8" cy="512.9" r="3.05"/><circle cx="844.7" cy="512.9" r="3.05"/><circle cx="883.6" cy="512.9" r="3.05"/><circle cx="793.0" cy="521.0" r="3.05"/><circle cx="818.8" cy="521.0" r="3.05"/><circle cx="851.2" cy="521.0" r="3.05"/><circle cx="867.4" cy="521.0" r="3.05"/><circle cx="750.9" cy="527.5" r="3.05"/><circle cx="754.1" cy="537.3" r="3.05"/><circle cx="867.4" cy="537.3" r="3.05"/><circle cx="799.4" cy="545.4" r="3.05"/><circle cx="805.9" cy="508.8" r="3.05"/></g><g fill="#ff6c1f" opacity="0.24"><circle cx="841.5" cy="407.2" r="3.05"/><circle cx="851.2" cy="407.2" r="3.05"/><circle cx="867.4" cy="407.2" r="3.05"/><circle cx="883.6" cy="407.2" r="3.05"/><circle cx="750.9" cy="415.4" r="3.05"/><circle cx="757.4" cy="415.4" r="3.05"/><circle cx="825.3" cy="415.4" r="3.05"/><circle cx="731.5" cy="423.5" r="3.05"/><circle cx="773.6" cy="423.5" r="3.05"/><circle cx="783.3" cy="423.5" r="3.05"/><circle cx="805.9" cy="421.0" r="3.05"/><circle cx="747.7" cy="431.6" r="3.05"/><circle cx="799.4" cy="431.6" r="3.05"/><circle cx="831.8" cy="431.6" r="3.05"/><circle cx="838.3" cy="431.6" r="3.05"/><circle cx="663.5" cy="439.7" r="3.05"/><circle cx="715.3" cy="439.7" r="3.05"/><circle cx="754.1" cy="439.7" r="3.05"/><circle cx="793.0" cy="439.7" r="3.05"/><circle cx="815.6" cy="439.7" r="3.05"/><circle cx="822.1" cy="439.7" r="3.05"/><circle cx="828.6" cy="439.7" r="3.05"/><circle cx="860.9" cy="439.7" r="3.05"/><circle cx="259.1" cy="447.9" r="3.05"/><circle cx="676.5" cy="447.9" r="3.05"/><circle cx="689.4" cy="447.9" r="3.05"/><circle cx="705.6" cy="447.9" r="3.05"/><circle cx="776.8" cy="447.9" r="3.05"/><circle cx="780.0" cy="447.9" r="3.05"/><circle cx="851.2" cy="447.9" r="3.05"/><circle cx="864.1" cy="447.9" r="3.05"/><circle cx="275.3" cy="456.0" r="3.05"/><circle cx="285.0" cy="456.0" r="3.05"/><circle cx="301.2" cy="456.0" r="3.05"/><circle cx="369.1" cy="456.0" r="3.05"/><circle cx="420.9" cy="456.0" r="3.05"/><circle cx="521.2" cy="456.0" r="3.05"/><circle cx="573.0" cy="456.0" r="3.05"/><circle cx="595.6" cy="456.0" r="3.05"/><circle cx="621.5" cy="456.0" r="3.05"/><circle cx="741.2" cy="456.0" r="3.05"/><circle cx="754.1" cy="456.0" r="3.05"/><circle cx="773.6" cy="456.0" r="3.05"/><circle cx="799.4" cy="456.0" r="3.05"/><circle cx="802.7" cy="456.0" r="3.05"/><circle cx="805.9" cy="456.0" r="3.05"/><circle cx="818.8" cy="456.0" r="3.05"/><circle cx="828.6" cy="456.0" r="3.05"/><circle cx="841.5" cy="456.0" r="3.05"/><circle cx="873.8" cy="456.0" r="3.05"/><circle cx="149.1" cy="464.1" r="3.05"/><circle cx="165.3" cy="464.1" r="3.05"/><circle cx="249.4" cy="464.1" r="3.05"/><circle cx="343.2" cy="464.1" r="3.05"/><circle cx="346.5" cy="464.1" r="3.05"/><circle cx="385.3" cy="464.1" r="3.05"/><circle cx="488.8" cy="464.1" r="3.05"/><circle cx="611.8" cy="464.1" r="3.05"/><circle cx="679.7" cy="464.1" r="3.05"/><circle cx="773.6" cy="464.1" r="3.05"/><circle cx="780.0" cy="464.1" r="3.05"/><circle cx="825.3" cy="464.1" r="3.05"/><circle cx="857.7" cy="464.1" r="3.05"/><circle cx="864.1" cy="464.1" r="3.05"/><circle cx="181.5" cy="472.3" r="3.05"/><circle cx="191.2" cy="472.3" r="3.05"/><circle cx="207.4" cy="472.3" r="3.05"/><circle cx="317.4" cy="472.3" r="3.05"/><circle cx="327.1" cy="472.3" r="3.05"/><circle cx="411.2" cy="472.3" r="3.05"/><circle cx="437.1" cy="472.3" r="3.05"/><circle cx="505.0" cy="472.3" r="3.05"/><circle cx="530.9" cy="472.3" r="3.05"/><circle cx="637.7" cy="472.3" r="3.05"/><circle cx="647.4" cy="472.3" r="3.05"/><circle cx="731.5" cy="472.3" r="3.05"/><circle cx="754.1" cy="472.3" r="3.05"/><circle cx="783.3" cy="472.3" r="3.05"/><circle cx="799.4" cy="472.3" r="3.05"/><circle cx="812.4" cy="472.3" r="3.05"/><circle cx="822.1" cy="472.3" r="3.05"/><circle cx="835.0" cy="472.3" r="3.05"/><circle cx="841.5" cy="472.3" r="3.05"/><circle cx="851.2" cy="472.3" r="3.05"/><circle cx="857.7" cy="472.3" r="3.05"/><circle cx="71.5" cy="480.4" r="3.05"/><circle cx="97.4" cy="480.4" r="3.05"/><circle cx="113.5" cy="480.4" r="3.05"/><circle cx="123.2" cy="480.4" r="3.05"/><circle cx="217.1" cy="480.4" r="3.05"/><circle cx="320.6" cy="480.4" r="3.05"/><circle cx="395.0" cy="480.4" r="3.05"/><circle cx="547.1" cy="480.4" r="3.05"/><circle cx="556.8" cy="480.4" r="3.05"/><circle cx="670.0" cy="480.4" r="3.05"/><circle cx="728.3" cy="480.4" r="3.05"/><circle cx="734.7" cy="480.4" r="3.05"/><circle cx="738.0" cy="480.4" r="3.05"/><circle cx="780.0" cy="480.4" r="3.05"/><circle cx="867.4" cy="480.4" r="3.05"/><circle cx="398.2" cy="476.3" r="3.05"/><circle cx="712.1" cy="476.3" r="3.05"/><circle cx="553.5" cy="482.8" r="3.05"/><circle cx="233.2" cy="488.5" r="3.05"/><circle cx="353.0" cy="488.5" r="3.05"/><circle cx="414.4" cy="488.5" r="3.05"/><circle cx="608.5" cy="488.5" r="3.05"/><circle cx="683.0" cy="488.5" r="3.05"/><circle cx="705.6" cy="488.5" r="3.05"/><circle cx="708.8" cy="488.5" r="3.05"/><circle cx="728.3" cy="488.5" r="3.05"/><circle cx="734.7" cy="488.5" r="3.05"/><circle cx="738.0" cy="488.5" r="3.05"/><circle cx="760.6" cy="488.5" r="3.05"/><circle cx="783.3" cy="488.5" r="3.05"/><circle cx="802.7" cy="488.5" r="3.05"/><circle cx="805.9" cy="488.5" r="3.05"/><circle cx="818.8" cy="488.5" r="3.05"/><circle cx="835.0" cy="488.5" r="3.05"/><circle cx="844.7" cy="488.5" r="3.05"/><circle cx="860.9" cy="488.5" r="3.05"/><circle cx="864.1" cy="488.5" r="3.05"/><circle cx="870.6" cy="488.5" r="3.05"/><circle cx="81.2" cy="496.6" r="3.05"/><circle cx="463.0" cy="496.6" r="3.05"/><circle cx="479.1" cy="496.6" r="3.05"/><circle cx="511.5" cy="496.6" r="3.05"/><circle cx="608.5" cy="496.6" r="3.05"/><circle cx="615.0" cy="496.6" r="3.05"/><circle cx="634.4" cy="496.6" r="3.05"/><circle cx="644.1" cy="496.6" r="3.05"/><circle cx="666.8" cy="496.6" r="3.05"/><circle cx="679.7" cy="496.6" r="3.05"/><circle cx="686.2" cy="496.6" r="3.05"/><circle cx="734.7" cy="496.6" r="3.05"/><circle cx="747.7" cy="496.6" r="3.05"/><circle cx="770.3" cy="496.6" r="3.05"/><circle cx="799.4" cy="496.6" r="3.05"/><circle cx="805.9" cy="496.6" r="3.05"/><circle cx="818.8" cy="496.6" r="3.05"/><circle cx="139.4" cy="504.8" r="3.05"/><circle cx="233.2" cy="504.8" r="3.05"/><circle cx="249.4" cy="504.8" r="3.05"/><circle cx="349.7" cy="504.8" r="3.05"/><circle cx="356.2" cy="504.8" r="3.05"/><circle cx="365.9" cy="504.8" r="3.05"/><circle cx="456.5" cy="504.8" r="3.05"/><circle cx="466.2" cy="504.8" r="3.05"/><circle cx="521.2" cy="504.8" r="3.05"/><circle cx="524.4" cy="504.8" r="3.05"/><circle cx="543.8" cy="504.8" r="3.05"/><circle cx="634.4" cy="504.8" r="3.05"/><circle cx="637.7" cy="504.8" r="3.05"/><circle cx="660.3" cy="504.8" r="3.05"/><circle cx="663.5" cy="504.8" r="3.05"/><circle cx="666.8" cy="504.8" r="3.05"/><circle cx="670.0" cy="504.8" r="3.05"/><circle cx="683.0" cy="504.8" r="3.05"/><circle cx="738.0" cy="504.8" r="3.05"/><circle cx="754.1" cy="504.8" r="3.05"/><circle cx="757.4" cy="504.8" r="3.05"/><circle cx="767.1" cy="504.8" r="3.05"/><circle cx="776.8" cy="504.8" r="3.05"/><circle cx="796.2" cy="504.8" r="3.05"/><circle cx="802.7" cy="504.8" r="3.05"/><circle cx="812.4" cy="504.8" r="3.05"/><circle cx="828.6" cy="504.8" r="3.05"/><circle cx="841.5" cy="504.8" r="3.05"/><circle cx="178.2" cy="512.9" r="3.05"/><circle cx="275.3" cy="512.9" r="3.05"/><circle cx="340.0" cy="512.9" r="3.05"/><circle cx="349.7" cy="512.9" r="3.05"/><circle cx="356.2" cy="512.9" r="3.05"/><circle cx="365.9" cy="512.9" r="3.05"/><circle cx="437.1" cy="512.9" r="3.05"/><circle cx="453.2" cy="512.9" r="3.05"/><circle cx="501.8" cy="512.9" r="3.05"/><circle cx="524.4" cy="512.9" r="3.05"/><circle cx="527.7" cy="512.9" r="3.05"/><circle cx="543.8" cy="512.9" r="3.05"/><circle cx="547.1" cy="512.9" r="3.05"/><circle cx="550.3" cy="512.9" r="3.05"/><circle cx="556.8" cy="512.9" r="3.05"/><circle cx="569.7" cy="512.9" r="3.05"/><circle cx="573.0" cy="512.9" r="3.05"/><circle cx="589.1" cy="512.9" r="3.05"/><circle cx="602.1" cy="512.9" r="3.05"/><circle cx="618.3" cy="512.9" r="3.05"/><circle cx="640.9" cy="512.9" r="3.05"/><circle cx="650.6" cy="512.9" r="3.05"/><circle cx="670.0" cy="512.9" r="3.05"/><circle cx="692.7" cy="512.9" r="3.05"/><circle cx="708.8" cy="512.9" r="3.05"/><circle cx="715.3" cy="512.9" r="3.05"/><circle cx="747.7" cy="512.9" r="3.05"/><circle cx="750.9" cy="512.9" r="3.05"/><circle cx="754.1" cy="512.9" r="3.05"/><circle cx="786.5" cy="512.9" r="3.05"/><circle cx="149.1" cy="521.0" r="3.05"/><circle cx="158.8" cy="521.0" r="3.05"/><circle cx="175.0" cy="521.0" r="3.05"/><circle cx="184.7" cy="521.0" r="3.05"/><circle cx="204.1" cy="521.0" r="3.05"/><circle cx="207.4" cy="521.0" r="3.05"/><circle cx="230.0" cy="521.0" r="3.05"/><circle cx="265.6" cy="521.0" r="3.05"/><circle cx="320.6" cy="521.0" r="3.05"/><circle cx="323.8" cy="521.0" r="3.05"/><circle cx="349.7" cy="521.0" r="3.05"/><circle cx="359.4" cy="521.0" r="3.05"/><circle cx="362.7" cy="521.0" r="3.05"/><circle cx="391.8" cy="521.0" r="3.05"/><circle cx="433.8" cy="521.0" r="3.05"/><circle cx="459.7" cy="521.0" r="3.05"/><circle cx="463.0" cy="521.0" r="3.05"/><circle cx="488.8" cy="521.0" r="3.05"/><circle cx="495.3" cy="521.0" r="3.05"/><circle cx="527.7" cy="521.0" r="3.05"/><circle cx="537.4" cy="521.0" r="3.05"/><circle cx="550.3" cy="521.0" r="3.05"/><circle cx="579.4" cy="521.0" r="3.05"/><circle cx="624.7" cy="521.0" r="3.05"/><circle cx="631.2" cy="521.0" r="3.05"/><circle cx="644.1" cy="521.0" r="3.05"/><circle cx="660.3" cy="521.0" r="3.05"/><circle cx="670.0" cy="521.0" r="3.05"/><circle cx="683.0" cy="521.0" r="3.05"/><circle cx="857.7" cy="521.0" r="3.05"/><circle cx="728.3" cy="517.8" r="3.05"/><circle cx="139.4" cy="529.2" r="3.05"/><circle cx="168.5" cy="529.2" r="3.05"/><circle cx="184.7" cy="529.2" r="3.05"/><circle cx="207.4" cy="529.2" r="3.05"/><circle cx="226.8" cy="529.2" r="3.05"/><circle cx="255.9" cy="529.2" r="3.05"/><circle cx="262.4" cy="529.2" r="3.05"/><circle cx="275.3" cy="529.2" r="3.05"/><circle cx="285.0" cy="529.2" r="3.05"/><circle cx="301.2" cy="529.2" r="3.05"/><circle cx="317.4" cy="529.2" r="3.05"/><circle cx="320.6" cy="529.2" r="3.05"/><circle cx="401.5" cy="529.2" r="3.05"/><circle cx="411.2" cy="529.2" r="3.05"/><circle cx="437.1" cy="529.2" r="3.05"/><circle cx="456.5" cy="529.2" r="3.05"/><circle cx="463.0" cy="529.2" r="3.05"/><circle cx="505.0" cy="529.2" r="3.05"/><circle cx="534.1" cy="529.2" r="3.05"/><circle cx="540.6" cy="529.2" r="3.05"/><circle cx="605.3" cy="529.2" r="3.05"/><circle cx="608.5" cy="529.2" r="3.05"/><circle cx="634.4" cy="529.2" r="3.05"/><circle cx="637.7" cy="529.2" r="3.05"/><circle cx="660.3" cy="529.2" r="3.05"/><circle cx="683.0" cy="529.2" r="3.05"/><circle cx="686.2" cy="529.2" r="3.05"/><circle cx="705.6" cy="529.2" r="3.05"/><circle cx="708.8" cy="529.2" r="3.05"/><circle cx="725.0" cy="529.2" r="3.05"/><circle cx="728.3" cy="525.1" r="3.05"/><circle cx="120.0" cy="537.3" r="3.05"/><circle cx="149.1" cy="537.3" r="3.05"/><circle cx="178.2" cy="537.3" r="3.05"/><circle cx="181.5" cy="537.3" r="3.05"/><circle cx="184.7" cy="537.3" r="3.05"/><circle cx="210.6" cy="537.3" r="3.05"/><circle cx="230.0" cy="537.3" r="3.05"/><circle cx="333.5" cy="537.3" r="3.05"/><circle cx="372.4" cy="537.3" r="3.05"/><circle cx="420.9" cy="537.3" r="3.05"/><circle cx="437.1" cy="537.3" r="3.05"/><circle cx="440.3" cy="537.3" r="3.05"/><circle cx="443.5" cy="537.3" r="3.05"/><circle cx="456.5" cy="537.3" r="3.05"/><circle cx="501.8" cy="537.3" r="3.05"/><circle cx="505.0" cy="537.3" r="3.05"/><circle cx="511.5" cy="537.3" r="3.05"/><circle cx="543.8" cy="537.3" r="3.05"/><circle cx="550.3" cy="537.3" r="3.05"/><circle cx="556.8" cy="537.3" r="3.05"/><circle cx="576.2" cy="537.3" r="3.05"/><circle cx="595.6" cy="537.3" r="3.05"/><circle cx="640.9" cy="537.3" r="3.05"/><circle cx="647.4" cy="537.3" r="3.05"/><circle cx="657.1" cy="537.3" r="3.05"/><circle cx="663.5" cy="537.3" r="3.05"/><circle cx="692.7" cy="537.3" r="3.05"/><circle cx="708.8" cy="537.3" r="3.05"/><circle cx="718.6" cy="537.3" r="3.05"/><circle cx="728.3" cy="537.3" r="3.05"/><circle cx="731.5" cy="537.3" r="3.05"/><circle cx="880.3" cy="537.3" r="3.05"/><circle cx="84.4" cy="545.4" r="3.05"/><circle cx="94.1" cy="545.4" r="3.05"/><circle cx="100.6" cy="545.4" r="3.05"/><circle cx="116.8" cy="545.4" r="3.05"/><circle cx="171.8" cy="545.4" r="3.05"/><circle cx="187.9" cy="545.4" r="3.05"/><circle cx="200.9" cy="545.4" r="3.05"/><circle cx="204.1" cy="545.4" r="3.05"/><circle cx="217.1" cy="545.4" r="3.05"/><circle cx="262.4" cy="545.4" r="3.05"/><circle cx="265.6" cy="545.4" r="3.05"/><circle cx="275.3" cy="545.4" r="3.05"/><circle cx="294.7" cy="545.4" r="3.05"/><circle cx="297.9" cy="545.4" r="3.05"/><circle cx="317.4" cy="545.4" r="3.05"/><circle cx="323.8" cy="545.4" r="3.05"/><circle cx="343.2" cy="545.4" r="3.05"/><circle cx="346.5" cy="545.4" r="3.05"/><circle cx="353.0" cy="545.4" r="3.05"/><circle cx="362.7" cy="545.4" r="3.05"/><circle cx="369.1" cy="545.4" r="3.05"/><circle cx="375.6" cy="545.4" r="3.05"/><circle cx="385.3" cy="545.4" r="3.05"/><circle cx="408.0" cy="545.4" r="3.05"/><circle cx="414.4" cy="545.4" r="3.05"/><circle cx="443.5" cy="545.4" r="3.05"/><circle cx="456.5" cy="545.4" r="3.05"/><circle cx="459.7" cy="545.4" r="3.05"/><circle cx="482.4" cy="545.4" r="3.05"/><circle cx="495.3" cy="545.4" r="3.05"/><circle cx="505.0" cy="545.4" r="3.05"/><circle cx="508.2" cy="545.4" r="3.05"/><circle cx="527.7" cy="545.4" r="3.05"/><circle cx="550.3" cy="545.4" r="3.05"/><circle cx="573.0" cy="545.4" r="3.05"/><circle cx="595.6" cy="545.4" r="3.05"/><circle cx="618.3" cy="545.4" r="3.05"/><circle cx="679.7" cy="545.4" r="3.05"/><circle cx="94.1" cy="553.6" r="3.05"/><circle cx="97.4" cy="553.6" r="3.05"/><circle cx="136.2" cy="553.6" r="3.05"/><circle cx="139.4" cy="553.6" r="3.05"/><circle cx="223.5" cy="553.6" r="3.05"/><circle cx="275.3" cy="553.6" r="3.05"/><circle cx="307.7" cy="553.6" r="3.05"/><circle cx="330.3" cy="553.6" r="3.05"/><circle cx="346.5" cy="553.6" r="3.05"/><circle cx="372.4" cy="553.6" r="3.05"/><circle cx="385.3" cy="553.6" r="3.05"/><circle cx="395.0" cy="553.6" r="3.05"/><circle cx="398.2" cy="553.6" r="3.05"/><circle cx="408.0" cy="553.6" r="3.05"/><circle cx="417.7" cy="553.6" r="3.05"/><circle cx="433.8" cy="553.6" r="3.05"/><circle cx="437.1" cy="553.6" r="3.05"/><circle cx="440.3" cy="553.6" r="3.05"/><circle cx="443.5" cy="553.6" r="3.05"/><circle cx="450.0" cy="553.6" r="3.05"/><circle cx="453.2" cy="553.6" r="3.05"/><circle cx="459.7" cy="553.6" r="3.05"/><circle cx="482.4" cy="553.6" r="3.05"/><circle cx="498.5" cy="553.6" r="3.05"/><circle cx="511.5" cy="553.6" r="3.05"/><circle cx="540.6" cy="553.6" r="3.05"/><circle cx="553.5" cy="553.6" r="3.05"/><circle cx="556.8" cy="553.6" r="3.05"/><circle cx="427.4" cy="549.5" r="3.05"/><circle cx="595.6" cy="549.5" r="3.05"/><circle cx="97.4" cy="561.7" r="3.05"/><circle cx="142.6" cy="561.7" r="3.05"/><circle cx="155.6" cy="561.7" r="3.05"/><circle cx="171.8" cy="561.7" r="3.05"/><circle cx="207.4" cy="561.7" r="3.05"/><circle cx="223.5" cy="561.7" r="3.05"/><circle cx="236.5" cy="561.7" r="3.05"/><circle cx="252.7" cy="561.7" r="3.05"/><circle cx="294.7" cy="561.7" r="3.05"/><circle cx="307.7" cy="561.7" r="3.05"/><circle cx="320.6" cy="561.7" r="3.05"/><circle cx="362.7" cy="561.7" r="3.05"/><circle cx="365.9" cy="561.7" r="3.05"/><circle cx="375.6" cy="561.7" r="3.05"/><circle cx="388.5" cy="561.7" r="3.05"/><circle cx="414.4" cy="561.7" r="3.05"/><circle cx="443.5" cy="561.7" r="3.05"/><circle cx="466.2" cy="561.7" r="3.05"/><circle cx="472.7" cy="561.7" r="3.05"/><circle cx="582.7" cy="561.7" r="3.05"/><circle cx="265.6" cy="565.8" r="3.05"/><circle cx="84.4" cy="566.6" r="3.05"/><circle cx="628.0" cy="572.3" r="3.05"/><circle cx="71.5" cy="569.8" r="3.05"/><circle cx="94.1" cy="569.8" r="3.05"/><circle cx="149.1" cy="569.8" r="3.05"/><circle cx="162.1" cy="569.8" r="3.05"/><circle cx="187.9" cy="569.8" r="3.05"/><circle cx="210.6" cy="569.8" r="3.05"/><circle cx="255.9" cy="569.8" r="3.05"/><circle cx="262.4" cy="569.8" r="3.05"/><circle cx="272.1" cy="569.8" r="3.05"/><circle cx="278.5" cy="569.8" r="3.05"/><circle cx="288.2" cy="569.8" r="3.05"/><circle cx="301.2" cy="569.8" r="3.05"/><circle cx="323.8" cy="569.8" r="3.05"/><circle cx="343.2" cy="569.8" r="3.05"/><circle cx="369.1" cy="569.8" r="3.05"/><circle cx="388.5" cy="569.8" r="3.05"/><circle cx="391.8" cy="569.8" r="3.05"/><circle cx="408.0" cy="569.8" r="3.05"/><circle cx="430.6" cy="569.8" r="3.05"/><circle cx="686.2" cy="569.8" r="3.05"/><circle cx="793.0" cy="569.8" r="3.05"/><circle cx="87.6" cy="578.0" r="3.05"/><circle cx="94.1" cy="578.0" r="3.05"/><circle cx="113.5" cy="578.0" r="3.05"/><circle cx="123.2" cy="578.0" r="3.05"/><circle cx="132.9" cy="578.0" r="3.05"/><circle cx="149.1" cy="578.0" r="3.05"/><circle cx="158.8" cy="578.0" r="3.05"/><circle cx="168.5" cy="578.0" r="3.05"/><circle cx="178.2" cy="578.0" r="3.05"/><circle cx="194.4" cy="578.0" r="3.05"/><circle cx="233.2" cy="578.0" r="3.05"/><circle cx="239.7" cy="578.0" r="3.05"/><circle cx="252.7" cy="578.0" r="3.05"/><circle cx="317.4" cy="578.0" r="3.05"/><circle cx="343.2" cy="578.0" r="3.05"/><circle cx="346.5" cy="578.0" r="3.05"/><circle cx="353.0" cy="578.0" r="3.05"/><circle cx="100.6" cy="586.1" r="3.05"/><circle cx="110.3" cy="586.1" r="3.05"/><circle cx="139.4" cy="586.1" r="3.05"/><circle cx="155.6" cy="586.1" r="3.05"/><circle cx="207.4" cy="586.1" r="3.05"/><circle cx="230.0" cy="586.1" r="3.05"/><circle cx="246.2" cy="586.1" r="3.05"/><circle cx="534.1" cy="586.1" r="3.05"/><circle cx="673.3" cy="586.1" r="3.05"/><circle cx="841.5" cy="586.1" r="3.05"/><circle cx="139.4" cy="582.0" r="3.05"/><circle cx="74.7" cy="594.2" r="3.05"/><circle cx="81.2" cy="594.2" r="3.05"/><circle cx="90.9" cy="594.2" r="3.05"/><circle cx="94.1" cy="594.2" r="3.05"/><circle cx="100.6" cy="594.2" r="3.05"/><circle cx="120.0" cy="594.2" r="3.05"/><circle cx="129.7" cy="594.2" r="3.05"/><circle cx="139.4" cy="594.2" r="3.05"/><circle cx="158.8" cy="594.2" r="3.05"/><circle cx="242.9" cy="594.2" r="3.05"/><circle cx="291.5" cy="594.2" r="3.05"/><circle cx="372.4" cy="594.2" r="3.05"/><circle cx="71.5" cy="602.3" r="3.05"/><circle cx="74.7" cy="602.3" r="3.05"/><circle cx="110.3" cy="602.3" r="3.05"/><circle cx="378.8" cy="602.3" r="3.05"/><circle cx="469.4" cy="602.3" r="3.05"/><circle cx="136.2" cy="599.9" r="3.05"/><circle cx="81.2" cy="606.4" r="3.05"/><circle cx="68.2" cy="618.6" r="3.05"/><circle cx="71.5" cy="618.6" r="3.05"/><circle cx="178.2" cy="618.6" r="3.05"/><circle cx="84.4" cy="626.7" r="3.05"/><circle cx="815.6" cy="484.5" r="3.05"/></g><line x1="60" y1="456.5" x2="887" y2="456.5" stroke="#444" stroke-width="1" shape-rendering="crispEdges"/><path d="M65.4,569.6 L68.6,569.4 L71.0,559.0 L74.4,557.4 L77.6,577.0 L81.0,580.6 L91.0,581.4 L94.4,585.4 L97.6,583.6 L103.6,571.0 L106.6,567.4 L113.0,567.0 L117.0,563.6 L123.0,561.0 L129.4,560.0 L141.0,559.0 L146.0,555.4 L149.0,554.6 L152.4,552.4 L162.0,552.0 L169.0,552.0 L175.0,550.6 L181.4,550.4 L184.6,560.6 L188.0,560.6 L191.6,551.0 L194.0,551.0 L197.4,548.6 L204.0,548.0 L207.0,547.0 L210.4,547.0 L214.0,543.0 L217.0,535.0 L223.6,534.6 L226.6,536.0 L233.0,535.4 L236.4,534.4 L239.4,537.0 L249.0,537.4 L252.6,544.4 L255.6,543.6 L259.0,539.4 L265.0,539.6 L272.0,540.0 L275.0,541.0 L284.6,542.0 L285.0,541.0 L288.0,539.0 L294.6,538.0 L298.0,541.0 L301.0,540.0 L304.4,537.4 L307.6,539.6 L311.0,540.4 L317.0,540.6 L323.0,541.4 L327.0,529.4 L333.6,532.4 L346.4,532.4 L349.6,536.6 L353.0,535.0 L356.4,538.0 L359.4,538.0 L362.6,532.6 L366.0,530.0 L372.4,523.0 L379.0,526.0 L382.4,527.6 L385.0,527.6 L389.0,537.6 L395.0,536.6 L408.4,536.6 L411.4,539.0 L414.6,539.6 L417.6,529.6 L424.4,531.0 L437.0,531.0 L440.4,528.6 L443.6,529.6 L447.0,532.6 L453.6,532.6 L459.6,535.0 L463.0,534.6 L466.0,531.0 L469.4,530.0 L479.0,530.0 L482.6,539.0 L489.0,533.4 L492.4,534.0 L499.0,533.6 L505.0,532.6 L514.6,531.6 L515.0,532.0 L521.0,532.0 L525.0,530.0 L528.0,527.0 L531.0,521.0 L534.4,517.4 L541.0,517.4 L547.0,516.0 L551.0,516.6 L557.0,519.4 L563.6,522.6 L573.0,521.4 L576.4,519.0 L583.0,518.0 L592.6,518.0 L595.6,520.4 L599.0,520.4 L602.4,518.4 L618.4,519.0 L622.0,516.4 L631.6,516.4 L638.4,517.0 L644.6,516.0 L651.0,515.0 L660.6,515.0 L664.0,513.6 L670.4,510.0 L680.0,509.6 L683.0,517.6 L686.6,514.0 L693.0,510.4 L706.0,510.4 L709.0,511.6 L715.6,508.6 L719.0,506.6 L725.0,506.0 L732.0,503.0 L735.0,500.0 L738.0,499.0 L741.0,495.0 L744.6,491.4 L745.0,491.5 L748.0,486.0 L751.0,488.5 L754.0,480.0 L761.0,480.5 L770.0,481.0 L774.0,475.5 L779.0,475.0 L786.0,468.0 L796.0,468.5 L799.0,463.5 L803.0,463.0 L806.0,474.0 L809.0,467.5 L816.0,467.0 L819.0,464.0 L825.0,461.0 L828.5,465.5 L838.0,465.5 L841.5,462.0 L845.0,464.0 L848.0,464.0 L851.5,466.5 L855.0,463.0 L860.0,463.0 L864.0,464.5 L870.0,464.0 L874.0,466.5 L880.0,466.0 L884.0,465.0 L887.0,471.5" fill="none" stroke="#ff6122" stroke-width="3" stroke-linejoin="round" stroke-linecap="butt"/><path d="M65.4,431.4 L68.6,431.0 L71.0,415.0 L74.4,416.0 L77.6,424.0 L82.0,421.0 L91.0,421.0 L94.4,428.0 L97.0,429.6 L100.6,434.4 L103.6,425.4 L106.6,430.0 L117.0,430.0 L119.6,419.0 L123.0,421.0 L126.4,421.4 L129.4,419.4 L138.0,419.2 L142.4,416.6 L146.0,419.4 L159.0,419.4 L162.0,417.4 L165.6,420.0 L168.4,421.4 L171.6,419.4 L181.4,420.0 L185.0,424.0 L191.6,432.4 L194.0,431.0 L197.4,427.0 L204.0,426.6 L207.0,428.4 L210.4,428.0 L214.0,431.6 L220.0,430.0 L223.6,430.0 L226.6,423.0 L230.0,424.4 L233.0,424.4 L236.4,426.4 L242.4,420.4 L249.0,420.0 L252.6,414.4 L256.0,415.0 L262.4,423.4 L275.0,423.2 L278.0,424.6 L281.0,423.2 L284.6,425.4 L285.0,425.0 L291.0,424.0 L295.0,424.4 L301.0,426.6 L304.4,430.4 L311.0,426.4 L323.0,426.4 L327.0,435.4 L333.6,429.0 L343.0,429.0 L347.0,427.4 L353.0,429.0 L356.4,425.4 L359.4,425.0 L362.6,419.0 L369.0,420.0 L375.4,425.6 L382.4,423.0 L385.0,423.4 L389.0,427.0 L392.0,427.0 L395.6,429.4 L401.6,427.4 L408.4,427.4 L411.4,422.0 L414.6,422.6 L417.6,433.0 L421.0,432.0 L424.4,433.4 L437.0,433.6 L440.4,432.0 L444.0,432.0 L447.0,421.6 L453.6,421.6 L456.6,420.6 L459.6,417.6 L463.0,420.0 L469.4,426.6 L479.0,427.0 L482.6,426.0 L489.0,429.6 L492.4,428.0 L499.0,428.0 L505.0,430.0 L511.0,431.4 L514.6,430.4 L515.0,430.0 L521.0,430.0 L528.0,431.6 L531.0,439.0 L534.4,442.0 L541.0,441.4 L548.0,442.0 L551.0,440.0 L557.0,434.0 L573.0,433.6 L576.4,438.0 L579.6,438.6 L585.0,438.4 L589.0,440.4 L592.6,441.0 L595.6,444.0 L599.0,441.4 L605.4,443.0 L618.4,443.4 L622.0,446.0 L625.0,447.0 L631.6,446.0 L635.0,436.6 L638.4,436.6 L644.6,438.6 L651.0,436.6 L657.4,436.6 L660.6,433.6 L664.0,435.0 L670.4,443.4 L680.0,443.6 L686.6,449.0 L693.0,454.4 L702.4,454.0 L706.0,452.6 L712.6,453.6 L719.0,456.0 L729.0,456.0 L735.0,461.6 L741.0,465.0 L744.6,464.0 L745.0,462.0 L748.0,460.0 L754.0,475.0 L757.0,475.0 L761.0,478.5 L771.0,478.5 L775.0,479.5 L779.0,482.0 L785.0,487.5 L787.0,489.0 L793.0,489.0 L796.5,487.5 L800.0,495.0 L803.0,497.0 L806.0,495.0 L809.0,489.5 L815.0,489.0 L819.0,487.0 L822.0,489.0 L825.0,488.0 L829.0,491.0 L835.0,491.0 L838.0,488.5 L841.5,488.0 L845.0,484.0 L848.0,485.5 L851.5,490.0 L854.0,491.5 L860.0,491.5 L864.0,494.0 L868.0,494.5 L871.0,497.0 L874.0,497.5 L880.0,497.0 L884.0,496.8 L887.0,497.5" fill="none" stroke="#039632" stroke-width="3" stroke-linejoin="round" stroke-linecap="butt"/><line x1="887" y1="202" x2="887" y2="708" stroke="#939393" stroke-width="2" stroke-dasharray="2 2"/><text class="upd" transform="scale(0.7,1)" x="600.86 611.89 622.91 633.94 644.97 656.00 667.03 678.06 689.09 700.11 711.14 722.17 733.20 744.23 755.26 766.29 777.31 788.34 799.37 810.40 821.43 832.46 843.49 854.51 865.54 876.57 887.60 898.63 909.66 920.69 931.71 942.74 953.77" y="37.3" text-anchor="middle">UPDATED OCT. 4, 2021, AT 10:29 AM</text><g class="ylab"><text transform="translate(42.5,217.0) scale(0.85,1)">80</text><text transform="translate(42.5,298.3) scale(0.85,1)">70</text><text transform="translate(42.5,379.6) scale(0.85,1)">60</text><text transform="translate(42.5,460.9) scale(0.85,1)" style="fill:#222;stroke:#222">50</text><text transform="translate(42.5,542.2) scale(0.85,1)">40</text><text transform="translate(42.5,623.5) scale(0.85,1)">30</text><text transform="translate(42.5,704.8) scale(0.85,1)">20</text><text transform="translate(57.6,217.0) scale(0.56,1)" style="letter-spacing:0">%</text></g><g class="xlab"><text x="65.5" y="720" style="letter-spacing:-0.38px">JAN. 23, 2021</text><text x="194.5" y="720">MARCH 4</text><text x="324.5" y="720">APRIL 13</text><text x="453.5" y="720">MAY 23</text><text x="583.5" y="720">JULY 2</text><text x="712.5" y="720" style="letter-spacing:-0.45px">AUG. 11</text><text x="842.5" y="720">SEPT. 20</text><text x="887.5" y="720">OCT. 4</text><text x="887.3" y="192.3" style="font-size:12px;letter-spacing:0.2px">DAY 258</text></g><text class="big" x="892" y="467.6" fill="#ff6122" stroke="#ff6122">48.0</text><text class="pct" transform="translate(955.8,456.5) scale(0.9,1)" fill="#ff6122" stroke="#ff6122">%</text><text class="lab" x="974.5" y="456">Disapprove</text><text class="big" x="892" y="517.6" fill="#039632" stroke="#039632">44.9</text><text class="pct" transform="translate(955.8,506.5) scale(0.9,1)" fill="#039632" stroke="#039632">%</text><text class="lab" x="974.5" y="506">Approve</text><text class="key" x="33" y="758" style="fill:#949494;stroke:#949494;stroke-width:0.5px;letter-spacing:0.7px">KEY</text><text class="key" x="73" y="758" textLength="57" lengthAdjust="spacing">ESTIMATE</text><text class="key" x="197.6" y="758" textLength="72" lengthAdjust="spacing">PROJECTION</text><text class="key" x="86.6" y="788" textLength="152.4" lengthAdjust="spacing">90% OF POLLS PROJECTED</text><text class="key" x="95.6" y="802.6" textLength="134.4" lengthAdjust="spacing">TO FALL IN THIS RANGE</text><path d="M147.1,743.2 L148.3,739.0 L150.7,745.3 L153.9,739.0 L156.3,745.0 L159.1,737.7 L161.2,737.0 L164.0,741.1 L167.4,738.0 L169.5,737.0 L172.3,741.1 L174.7,737.3 L177.2,739.7 L179.6,737.7 L182.0,740.4 L182.0,765.5 L180.0,765.1 L177.2,769.0 L174.4,763.0 L171.6,769.3 L169.5,766.2 L166.7,764.8 L164.0,767.6 L161.2,766.9 L159.1,770.3 L157.7,768.3 L155.6,770.7 L154.2,768.3 L152.8,770.3 L150.7,767.9 L149.3,768.3 L147.1,766.5Z" fill="#d7d7d7"/><path d="M132.3,753.5 H148 M182,754.3 H196.7" stroke="#111" stroke-width="1" fill="none"/><path d="M147.3,751.6 L152.8,756.8 L154.9,751.2 L160.8,754.7 L162.2,751.6 L166.4,754.3" stroke="#111" stroke-width="2.8" fill="none" stroke-linejoin="miter"/><path d="M168,754.3 H181" stroke="#111" stroke-width="1.6" stroke-dasharray="2.1 1.5" fill="none"/><path d="M160.5,767.2 V776.6" stroke="#111" stroke-width="1.1" fill="none"/></svg>
<div class="select"><span>All polls</span><svg width="10" height="17" viewBox="0 0 10 17"><path d="M1,7 L5,0.5 L9,7Z M1,10 L5,16.5 L9,10Z" fill="#222"/></svg></div>
<div class="btns"><div class="a">Today</div><div class="b">4 years</div></div>
</body></html>
